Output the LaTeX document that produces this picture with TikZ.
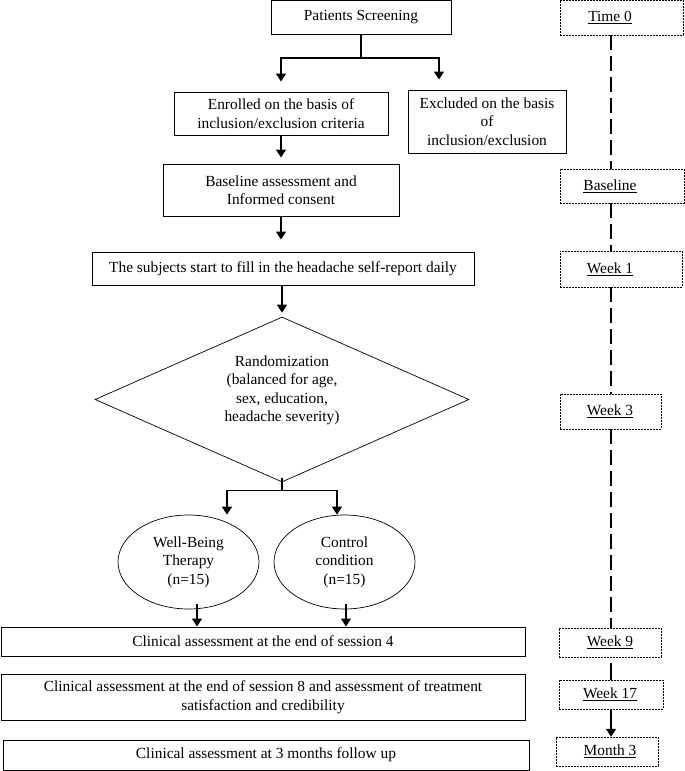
\documentclass[tikz,border=0pt]{standalone}
\usepackage{fontspec}
\setmainfont{Liberation Serif}
\usetikzlibrary{arrows.meta,shapes.geometric}

\begin{document}
\begin{tikzpicture}[x=1pt,y=-1pt,>={Triangle[length=8pt,width=10pt]},
  font=\fontsize{15.4}{18.5}\selectfont,
  box/.style={draw,line width=1pt,align=center,inner sep=0pt},
  round/.style={draw,ellipse,line width=0.7pt,align=center,inner sep=0pt,
    minimum width=141,minimum height=94},
  tbox/.style={draw,line width=0.5pt,dash pattern=on 2pt off 1pt,inner sep=0pt},
  tlab/.style={inner sep=0pt},
  flow/.style={->,line width=1.3pt},
  dashline/.style={line width=2.2pt,dash pattern=on 15pt off 6pt}]

\useasboundingbox (0,0) rectangle (685,771);

% Main flow
\node [box,minimum width=180,minimum height=34] (screen) at (361,17.5) {Patients Screening};
\node [box,minimum width=214,minimum height=43] (enrolled) at (281,113.5)
  {Enrolled on the basis of\\inclusion/exclusion criteria};
\node [box,minimum width=158,minimum height=63] (excluded) at (487,121.5)
  {Excluded on the basis\\of\\inclusion/exclusion};
\node [box,minimum width=236,minimum height=52] (base) at (281,190)
  {Baseline assessment and\\Informed consent};
\node [box,minimum width=382,minimum height=33] (subj) at (283,268.5)
  {The subjects start to fill in the headache self-report daily};
\node [draw,diamond,line width=0.7pt,align=center,inner sep=0pt,aspect=2.27,
  text depth=22pt,minimum width=374,minimum height=165] (rand) at (282,399.5)
  {Randomization\\(balanced for age,\\sex, education,\\headache severity)};
\node [round] (wbt) at (188.5,562) {Well-Being\\Therapy\\(n=15)};
\node [round] (cc) at (344.5,562) {Control\\condition\\(n=15)};
\node [box,minimum width=524,minimum height=29] (clin4) at (263,641.5)
  {Clinical assessment at the end of session 4};
\node [box,minimum width=524,minimum height=46] (clin8) at (263,697)
  {Clinical assessment at the end of session 8 and assessment of treatment\\satisfaction and credibility};
\node [box,minimum width=526,minimum height=30] (clin3m) at (266,755)
  {Clinical assessment at 3 months follow up};

% Connectors
\draw [line width=1.3pt] (screen.south) -- ++(0,23) coordinate (split1);
\draw [flow,shorten >=10pt] (split1) -| (enrolled.north);
\draw [flow,shorten >=10pt] (split1) -| ([xshift=-48pt]excluded.north);
\draw [flow,shorten >=6pt] (enrolled.south) -- (base.north);
\draw [flow,shorten >=12pt] (base.south) -- (base.south |- subj.north);
\draw [flow,shorten >=4pt] (subj.south -| rand.north) -- (rand.north);
\draw [line width=1.3pt] ([yshift=4pt]rand.south) -- ++(0,12) coordinate (split2);
\draw [flow] (split2) -| ([xshift=38.5pt]wbt.north);
\draw [flow] (split2) -| ([xshift=-7.5pt]cc.north);
\draw [flow] ([xshift=8.5pt,yshift=5pt]wbt.south) -- ([xshift=8.5pt]wbt.south |- clin4.north);
\draw [flow] ([xshift=1.5pt,yshift=5pt]cc.south) -- ([xshift=1.5pt]cc.south |- clin4.north);

% Timeline
\coordinate (tl) at (611,0);
\foreach \name/\cx/\cy/\w/\h/\lab in {
  t0/621.5/17.5/123/35/{Time 0},
  tb/622/186/124/34/Baseline,
  t1/621/269/122/36/{Week 1},
  t3/610.5/411.5/101/35/{Week 3},
  t9/610/642.5/102/29/{Week 9},
  t17/611/694.5/104/29/{Week 17},
  m3/607/751.5/102/29/{Month 3}} {
  \node [tbox,minimum width=\w,minimum height=\h] (\name) at (\cx,\cy) {};
  \node [tlab] (\name lab) at (610,\cy) {\underline{\lab}};
}

\draw [dashline] (t0.south -| tl) -- (tb.north -| tl);
\draw [dashline] (tb.south -| tl) -- (t1.north -| tl);
\draw [dashline] (t1.south -| tl) -- (t3.north -| tl);
\draw [dashline] (t3.south -| tl) -- (t9.north -| tl);
\draw [line width=2pt,shorten <=6pt] (t9.south -| tl) -- (t17.north -| tl);
\draw [flow] (t17.south -| tl) -- (m3.north -| tl);

\end{tikzpicture}
\end{document}
